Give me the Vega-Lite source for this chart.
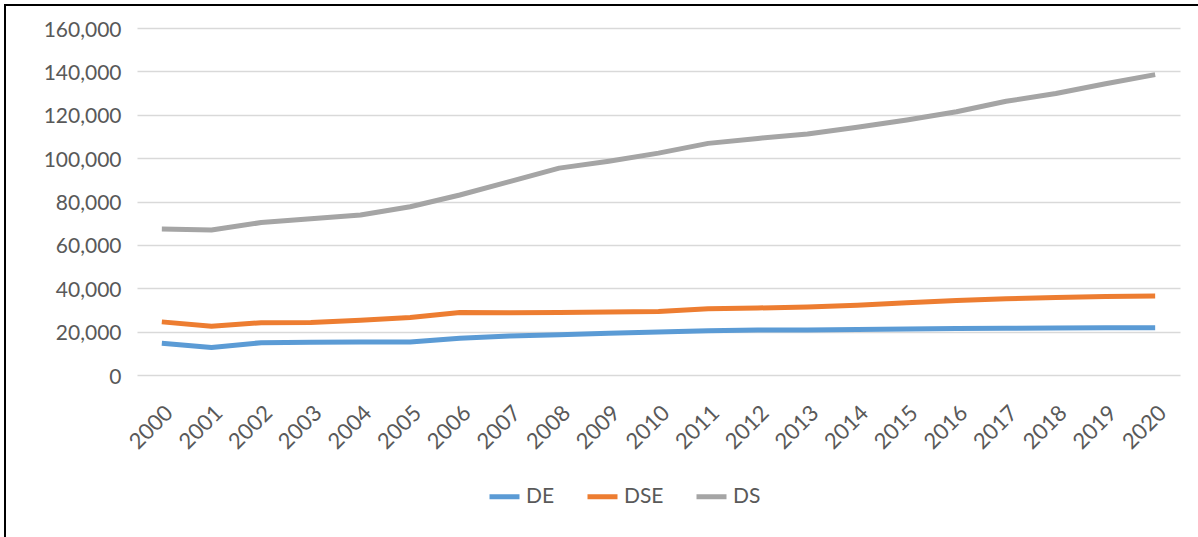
{
  "$schema": "https://vega.github.io/schema/vega-lite/v6.json",
  "width": 1193,
  "height": 532,
  "autosize": "none",
  "padding": {"left": 5, "top": 5, "right": 0, "bottom": 0},
  "background": "white",
  "config": {
    "view": {"stroke": "black", "strokeWidth": 2, "strokeDash": [1193, 1725, 533, 0]},
    "font": "Lato"
  },
  "data": {
    "values": [
      {"year": "2000", "series": "DE", "value": 14600},
      {"year": "2001", "series": "DE", "value": 12700},
      {"year": "2002", "series": "DE", "value": 14900},
      {"year": "2003", "series": "DE", "value": 15100},
      {"year": "2004", "series": "DE", "value": 15200},
      {"year": "2005", "series": "DE", "value": 15200},
      {"year": "2006", "series": "DE", "value": 16900},
      {"year": "2007", "series": "DE", "value": 18000},
      {"year": "2008", "series": "DE", "value": 18600},
      {"year": "2009", "series": "DE", "value": 19300},
      {"year": "2010", "series": "DE", "value": 19800},
      {"year": "2011", "series": "DE", "value": 20400},
      {"year": "2012", "series": "DE", "value": 20800},
      {"year": "2013", "series": "DE", "value": 20800},
      {"year": "2014", "series": "DE", "value": 21000},
      {"year": "2015", "series": "DE", "value": 21200},
      {"year": "2016", "series": "DE", "value": 21400},
      {"year": "2017", "series": "DE", "value": 21500},
      {"year": "2018", "series": "DE", "value": 21700},
      {"year": "2019", "series": "DE", "value": 21800},
      {"year": "2020", "series": "DE", "value": 21800},
      {"year": "2000", "series": "DSE", "value": 24500},
      {"year": "2001", "series": "DSE", "value": 22500},
      {"year": "2002", "series": "DSE", "value": 24100},
      {"year": "2003", "series": "DSE", "value": 24200},
      {"year": "2004", "series": "DSE", "value": 25300},
      {"year": "2005", "series": "DSE", "value": 26500},
      {"year": "2006", "series": "DSE", "value": 28800},
      {"year": "2007", "series": "DSE", "value": 28700},
      {"year": "2008", "series": "DSE", "value": 28800},
      {"year": "2009", "series": "DSE", "value": 29100},
      {"year": "2010", "series": "DSE", "value": 29300},
      {"year": "2011", "series": "DSE", "value": 30500},
      {"year": "2012", "series": "DSE", "value": 30900},
      {"year": "2013", "series": "DSE", "value": 31400},
      {"year": "2014", "series": "DSE", "value": 32200},
      {"year": "2015", "series": "DSE", "value": 33300},
      {"year": "2016", "series": "DSE", "value": 34300},
      {"year": "2017", "series": "DSE", "value": 35200},
      {"year": "2018", "series": "DSE", "value": 35700},
      {"year": "2019", "series": "DSE", "value": 36200},
      {"year": "2020", "series": "DSE", "value": 36400},
      {"year": "2000", "series": "DS", "value": 67300},
      {"year": "2001", "series": "DS", "value": 66900},
      {"year": "2002", "series": "DS", "value": 70300},
      {"year": "2003", "series": "DS", "value": 72000},
      {"year": "2004", "series": "DS", "value": 73800},
      {"year": "2005", "series": "DS", "value": 77600},
      {"year": "2006", "series": "DS", "value": 83000},
      {"year": "2007", "series": "DS", "value": 89200},
      {"year": "2008", "series": "DS", "value": 95400},
      {"year": "2009", "series": "DS", "value": 98600},
      {"year": "2010", "series": "DS", "value": 102300},
      {"year": "2011", "series": "DS", "value": 106800},
      {"year": "2012", "series": "DS", "value": 109100},
      {"year": "2013", "series": "DS", "value": 111100},
      {"year": "2014", "series": "DS", "value": 114200},
      {"year": "2015", "series": "DS", "value": 117600},
      {"year": "2016", "series": "DS", "value": 121400},
      {"year": "2017", "series": "DS", "value": 126200},
      {"year": "2018", "series": "DS", "value": 129800},
      {"year": "2019", "series": "DS", "value": 134300},
      {"year": "2020", "series": "DS", "value": 138500}
    ]
  },
  "mark": {"type": "line", "strokeWidth": 5, "strokeJoin": "round", "strokeCap": "butt"},
  "encoding": {
    "x": {
      "field": "year",
      "type": "ordinal",
      "scale": {"type": "point", "padding": 0.5, "range": [132, 1175]},
      "axis": {
        "title": null,
        "offset": -162,
        "domain": false,
        "ticks": false,
        "grid": false,
        "labelAngle": -45,
        "labelPadding": 27,
        "labelFontSize": 22,
        "labelColor": "#595959"
      }
    },
    "y": {
      "field": "value",
      "type": "quantitative",
      "scale": {"domain": [0, 160000], "nice": false, "zero": true, "range": [370, 23]},
      "axis": {
        "title": null,
        "offset": -132,
        "domain": false,
        "ticks": false,
        "values": [0, 20000, 40000, 60000, 80000, 100000, 120000, 140000, 160000],
        "format": ",d",
        "grid": true,
        "gridColor": "#D9D9D9",
        "gridWidth": 1.5,
        "labelPadding": 16,
        "labelFontSize": 21,
        "labelColor": "#595959",
        "labelBaseline": "top",
        "labelOffset": -9
      }
    },
    "color": {
      "field": "series",
      "type": "nominal",
      "scale": {"domain": ["DE", "DSE", "DS"], "range": ["#5B9BD5", "#ED7D31", "#A5A5A5"]},
      "legend": {
        "title": null,
        "orient": "none",
        "direction": "horizontal",
        "legendX": 482,
        "legendY": 474,
        "symbolType": "stroke",
        "symbolSize": 900,
        "symbolStrokeWidth": 5,
        "labelFontSize": 21,
        "labelColor": "#595959",
        "labelOffset": 4,
        "columnPadding": 22
      }
    }
  }
}
